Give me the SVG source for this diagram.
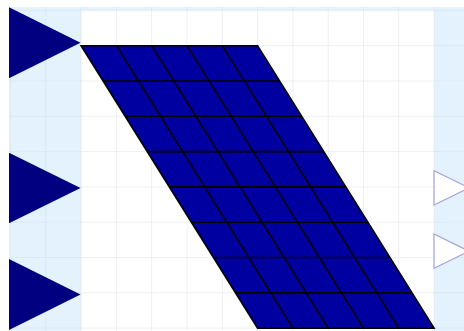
<svg xmlns="http://www.w3.org/2000/svg" width="464" height="331" viewBox="0 0 464 331">
<defs>
<style>
.grid line{stroke:#d8dde2;stroke-width:1;opacity:0.45}
.mesh line{stroke:#000;stroke-width:1.6}
.in{fill:#000080}
.out{fill:#fff;stroke:#a3a3dc;stroke-width:1.2}
</style>
</defs>
<rect x="0" y="0" width="464" height="331" fill="#fff"/>
<rect x="9" y="7" width="455" height="324" fill="#e3f2fd"/>
<rect x="81.1" y="10.4" width="353" height="321" fill="#fff"/>
<g class="grid">
<line x1="10.5" y1="7" x2="10.5" y2="331"/>
<line x1="45.8" y1="7" x2="45.8" y2="331"/>
<line x1="81.1" y1="7" x2="81.1" y2="331"/>
<line x1="116.4" y1="7" x2="116.4" y2="331"/>
<line x1="151.7" y1="7" x2="151.7" y2="331"/>
<line x1="187" y1="7" x2="187" y2="331"/>
<line x1="222.3" y1="7" x2="222.3" y2="331"/>
<line x1="257.6" y1="7" x2="257.6" y2="331"/>
<line x1="292.9" y1="7" x2="292.9" y2="331"/>
<line x1="328.2" y1="7" x2="328.2" y2="331"/>
<line x1="363.5" y1="7" x2="363.5" y2="331"/>
<line x1="398.8" y1="7" x2="398.8" y2="331"/>
<line x1="434.1" y1="7" x2="434.1" y2="331"/>
<line x1="9" y1="10.4" x2="464" y2="10.4"/>
<line x1="9" y1="45.7" x2="464" y2="45.7"/>
<line x1="9" y1="81" x2="464" y2="81"/>
<line x1="9" y1="116.3" x2="464" y2="116.3"/>
<line x1="9" y1="151.6" x2="464" y2="151.6"/>
<line x1="9" y1="186.9" x2="464" y2="186.9"/>
<line x1="9" y1="222.2" x2="464" y2="222.2"/>
<line x1="9" y1="257.5" x2="464" y2="257.5"/>
<line x1="9" y1="292.8" x2="464" y2="292.8"/>
<line x1="9" y1="328.1" x2="464" y2="328.1"/>
</g>
<g id="mesh" class="mesh">
<polygon points="81.1,45.7 257.6,45.7 434.1,328.1 257.6,328.1" fill="#0000a0" stroke="#000" stroke-width="1.6"/>
<line x1="103.2" y1="81" x2="279.7" y2="81"/>
<line x1="125.2" y1="116.3" x2="301.7" y2="116.3"/>
<line x1="147.3" y1="151.6" x2="323.8" y2="151.6"/>
<line x1="169.3" y1="186.9" x2="345.8" y2="186.9"/>
<line x1="191.4" y1="222.2" x2="367.9" y2="222.2"/>
<line x1="213.5" y1="257.5" x2="390" y2="257.5"/>
<line x1="235.5" y1="292.8" x2="412" y2="292.8"/>
<line x1="116.4" y1="45.7" x2="292.9" y2="328.1"/>
<line x1="151.7" y1="45.7" x2="328.2" y2="328.1"/>
<line x1="187" y1="45.7" x2="363.5" y2="328.1"/>
<line x1="222.3" y1="45.7" x2="398.8" y2="328.1"/>
</g>
<g id="inlet1"><polygon class="in" points="9,7.3 9,78.3 80.5,42.8"/></g>
<g id="inlet2"><polygon class="in" points="9,152.7 9,223.3 80.5,188"/></g>
<g id="inlet3"><polygon class="in" points="9,259 9,330 80.5,294.5"/></g>
<g id="outlet1"><polygon class="out" points="434,170.7 434,205 469,187.9"/></g>
<g id="outlet2"><polygon class="out" points="434,234 434,268.3 469,251.2"/></g>
</svg>
